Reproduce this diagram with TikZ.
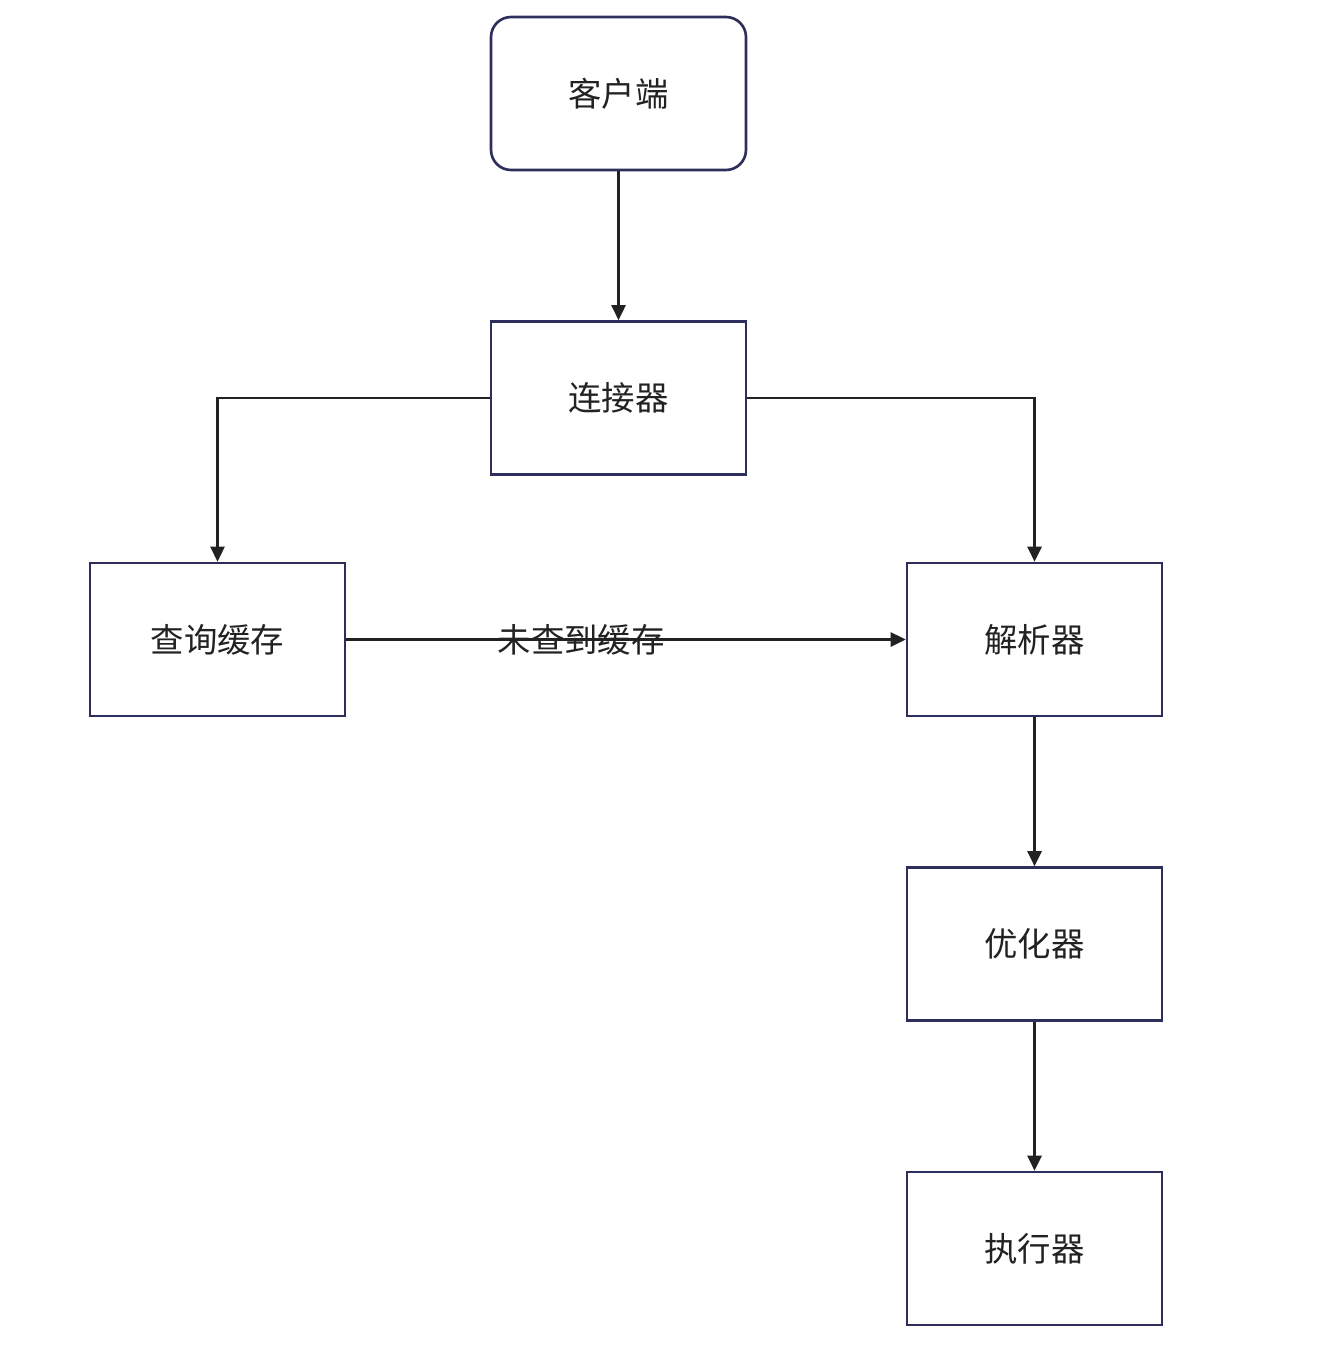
\documentclass[tikz,border=0pt]{standalone}
\usepackage{fontspec}
\setmainfont{Noto Sans CJK SC}
\usetikzlibrary{
		arrows.meta,
		positioning
	}
\definecolor{boxline}{HTML}{2E2E5C}
\definecolor{flowline}{HTML}{222222}
\tikzset{
		>={Triangle[length=0.3cm,width=0.28cm]},
		stage/.style={draw=boxline, line width=1.5pt, fill=white,
			minimum width=5.1cm, minimum height=3.06cm,
			font=\fontsize{19}{21}\selectfont, text=flowline},
		flow/.style={draw=flowline, line width=1.5pt, ->}
	}

\begin{document}
\begin{tikzpicture}[x=0.02cm,y=-0.02cm]
\useasboundingbox (0,0) rectangle (1344,1348);
\node[stage, rounded corners=0.4cm] (client) at (618.5, 93.5) {客户端};
\node[stage] (connector) at (618.5, 398) {连接器};
\node[stage] (cache) at (217.5, 639.5) {查询缓存};
\node[stage] (parser) at (1034.5, 639.5) {解析器};
\node[stage] (optimizer) at (1034.5, 944) {优化器};
\node[stage] (executor) at (1034.5, 1248.5) {执行器};
\draw[flow] (client) -- (connector);
\draw[flow] (connector.west) -| (cache);
\draw[flow] (connector.east) -| (parser);
\draw[flow] (cache) -- node[pos=0.42, font=\fontsize{19}{21}\selectfont, text=flowline] (miss) {未查到缓存} (parser);
\draw[flow] (parser) -- (optimizer);
\draw[flow] (optimizer) -- (executor);
\end{tikzpicture}
\end{document}
